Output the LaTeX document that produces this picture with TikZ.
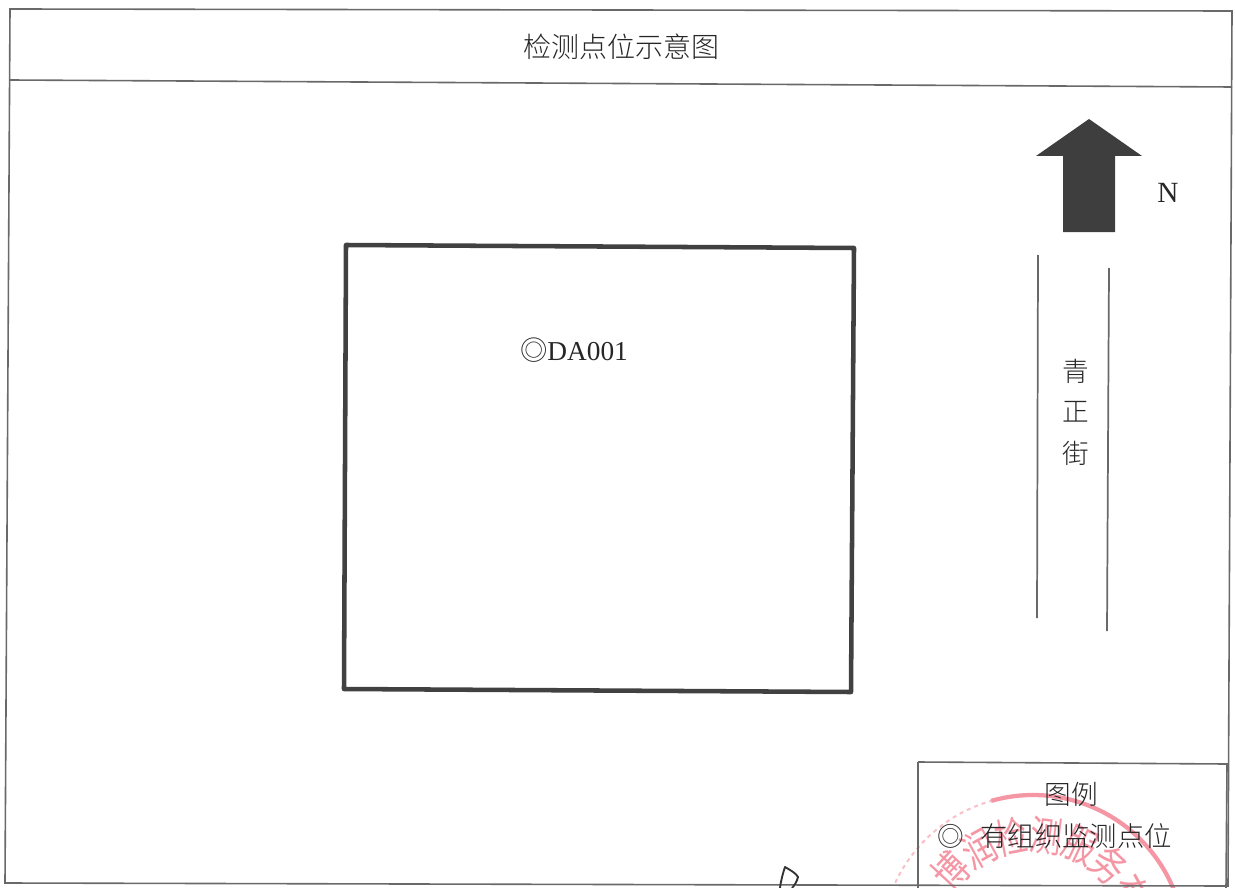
\documentclass[tikz,border=0pt]{standalone}
\usepackage{fontspec}
\setmainfont{Liberation Serif}
\newfontfamily\cjk{Noto Sans CJK SC}[UprightFont=* Light]
\newfontfamily\stampfont{Noto Sans CJK SC}
\definecolor{framegray}{RGB}{105, 105, 105}
\definecolor{plantgray}{RGB}{65, 65, 65}
\definecolor{arrowgray}{RGB}{62, 62, 62}
\definecolor{stampred}{RGB}{245, 150, 165}
\tikzset{
    frameline/.style={draw=framegray, line width=1.2pt},
    plantline/.style={draw=plantgray, line width=3.4pt, line join=round},
    roadline/.style={draw=framegray, line width=1.3pt},
    label/.style={text=black!85, inner sep=0pt, font=\cjk\fontsize{20}{24}\selectfont},
    stampchar/.style={text=stampred, inner sep=0pt, font=\stampfont\fontsize{31}{34}\selectfont}
}
\begin{document}
\begin{tikzpicture}[x=0.75pt, y=-0.75pt]
    \useasboundingbox (0, 0) rectangle (1235, 888);
    \clip (0, 0) rectangle (1235, 888);

    % Stamp
    \draw[stampred, line width=3.2pt] plot[smooth, domain=-16:70, samples=40] ({1033+152*sin(\x)}, {947-152*cos(\x)});
    \draw[stampred!60, line width=1.5pt, dashed] plot[smooth, domain=-65:-16, samples=30] ({1033+152*sin(\x)}, {947-152*cos(\x)});
    \foreach \ch [count=\i from 0] in {博, 润, 检, 测, 服, 务, 有} {
        \node[stampchar, rotate={47-\i*18}, xscale=0.78] (stamp\i) at ({1033+112*sin(-47+\i*18)}, {947-112*cos(-47+\i*18)}) {\ch};
    }

    % Frame
    \draw[frameline] (10, 9) -- (1232, 11) -- (1228, 886) -- (5, 883) -- cycle;
    \draw[frameline] (10, 80) -- (1232, 87);
    \node[label, font=\cjk\fontsize{21}{24}\selectfont] (title) at (621, 47) {检测点位示意图};

    % Plant outline
    \draw[plantline] (346, 245) -- (854, 248) -- (851, 692) -- (344, 689) -- cycle;
    \node[label] (point) at (574, 350) {\fontsize{20.5}{24}\selectfont ◎\rmfamily DA001};

    % North arrow
    \fill[arrowgray] (1089, 119) -- (1142, 156) -- (1115, 156) -- (1115, 232) -- (1063, 232) -- (1063, 156) -- (1036, 156) -- cycle;
    \node[label, font=\rmfamily\fontsize{22}{24}\selectfont] (north) at (1168, 193) {N};

    % Road
    \draw[roadline] (1038, 255) -- (1037, 618);
    \draw[roadline] (1109, 268) -- (1107, 631);
    \node[label] (road1) at (1076, 371) {青};
    \node[label] (road2) at (1076, 412) {正};
    \node[label] (road3) at (1076, 453) {街};

    % Legend
    \draw[frameline] (918, 762) -- (1227, 764) -- (1226, 888);
    \draw[frameline] (918, 762) -- (918, 888);
    \node[label] (legend) at (1071, 794) {图例};
    \node[label] (legendmark) at (951, 836) {◎};
    \node[label, font=\cjk\fontsize{20.5}{24}\selectfont] (legendtext) at (1076, 836) {有组织监测点位};

    % Signature
    \draw[black!80, line width=1.4pt, line join=round] (780, 888) .. controls (781, 880) and (783, 873) .. (785, 867) .. controls (790, 870) and (796, 873) .. (798, 877) .. controls (797, 881) and (795, 885) .. (792, 888);
\end{tikzpicture}
\end{document}
